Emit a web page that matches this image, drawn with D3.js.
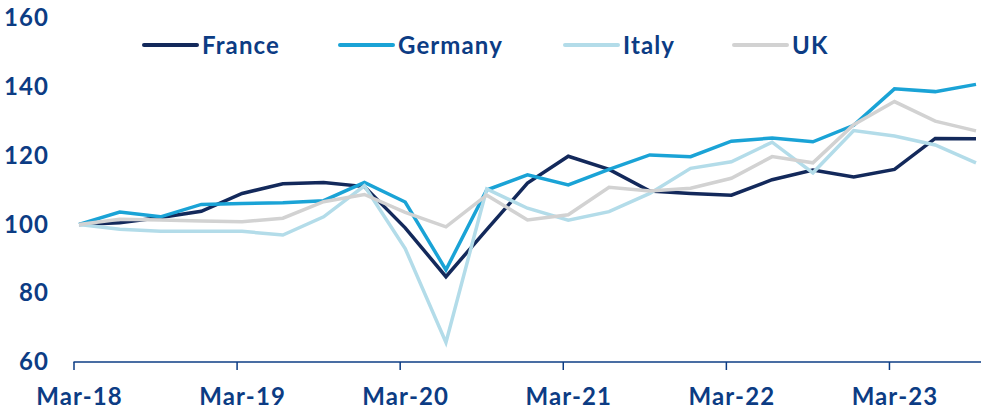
<!DOCTYPE html>
<html>
<head>
<meta charset="utf-8">
<script src="https://cdn.jsdelivr.net/npm/d3@7"></script>
<style>
  html, body { margin: 0; padding: 0; background: #fff; }
  svg { display: block; font-family: Lato, "Open Sans", sans-serif; }
</style>
</head>
<body>
<svg id="chart" width="981" height="413"></svg>
<script>
// Quarterly index values (Mar-18 = 100)
const quarters = ["Mar-18","Jun-18","Sep-18","Dec-18","Mar-19","Jun-19","Sep-19","Dec-19",
                  "Mar-20","Jun-20","Sep-20","Dec-20","Mar-21","Jun-21","Sep-21","Dec-21",
                  "Mar-22","Jun-22","Sep-22","Dec-22","Mar-23","Jun-23","Sep-23"];
const france  = [100, 100.5, 102, 103.8, 109, 111.8, 112.2, 111, 99, 84.8, 98.5, 112, 119.8, 116, 109.7, 109, 108.5, 113, 115.8, 113.8, 116, 125, 124.9];
const germany = [100, 103.6, 102.2, 105.8, 106.1, 106.3, 106.9, 112.2, 106.5, 86.8, 110, 114.4, 111.5, 116, 120.2, 119.7, 124.2, 125.1, 124, 128.8, 139.4, 138.6, 140.7];
const italy   = [100, 98.6, 98, 98, 98, 96.9, 102.2, 111.2, 93, 65.7, 110.3, 104.7, 101.2, 103.7, 109, 116.3, 118.2, 123.9, 115, 127.3, 125.7, 123.1, 117.9];
const uk      = [100, 101.5, 101.3, 101, 100.8, 101.8, 106.6, 108.7, 103.5, 99.3, 108.5, 101.3, 102.8, 110.8, 109.7, 110.5, 113.4, 119.7, 117.9, 129, 135.7, 130, 127.2];
const seriesNames = ["France", "Germany", "Italy", "UK"];
const yTicks = [60, 80, 100, 120, 140, 160];
const xTickLabels = ["Mar-18","Mar-19","Mar-20","Mar-21","Mar-22","Mar-23"];

const colors = ["#13295b", "#1aa3d6", "#b3dce9", "#d2d2d2"];
const textColor = "#0c3c84";
const series = [france, germany, italy, uk];

const fontSize = 24;
const letterSpacing = 1.1;

const svg = d3.select("#chart");

const x = d3.scalePoint().domain(quarters).range([79, 976]);
const y = d3.scaleLinear().domain([60, 160]).range([362, 18]);

function styleText(sel) {
  sel.attr("fill", textColor)
    .attr("font-size", fontSize)
    .attr("font-weight", 700)
    .attr("font-family", "Lato, sans-serif")
    .attr("letter-spacing", letterSpacing);
}

// Y labels (no axis line)
const yAxis = svg.append("g")
  .attr("transform", "translate(49,0)")
  .call(d3.axisLeft(y).tickValues(yTicks).tickSize(0).tickPadding(0));
yAxis.select(".domain").remove();
yAxis.selectAll("text").call(styleText);

// X axis: baseline with tick marks placed just before each year's first quarter
const xAxis = svg.append("g")
  .attr("transform", "translate(0,362)")
  .call(d3.axisBottom(x).tickValues(xTickLabels).tickSize(0).tickPadding(0));
xAxis.select(".domain").remove();
xAxis.append("line")
  .attr("x1", x("Mar-18") - 5.5).attr("x2", 981)
  .attr("y1", 0).attr("y2", 0)
  .attr("stroke", textColor).attr("stroke-width", 1.5);
xAxis.selectAll(".tick line")
  .attr("x1", -5.5).attr("x2", -5.5)
  .attr("y1", 0).attr("y2", 8)
  .attr("stroke", textColor).attr("stroke-width", 1.5);
xAxis.selectAll(".tick text")
  .attr("y", 43)
  .attr("dy", 0)
  .call(styleText);

// Lines
const line = d3.line()
  .x((d, i) => x(quarters[i]))
  .y(d => y(d));

series.forEach((s, k) => {
  svg.append("path")
    .datum(s)
    .attr("d", line)
    .attr("fill", "none")
    .attr("stroke", colors[k])
    .attr("stroke-width", 3.5)
    .attr("stroke-linejoin", "miter");
});

// Legend
const legendX = [144, 340, 565, 734];
const legend = svg.append("g");
seriesNames.forEach((name, k) => {
  const g = legend.append("g").attr("transform", `translate(${legendX[k]},45)`);
  g.append("line")
    .attr("x1", 0).attr("x2", 53)
    .attr("y1", 0).attr("y2", 0)
    .attr("stroke", colors[k])
    .attr("stroke-width", 4)
    .attr("stroke-linecap", "round");
  g.append("text")
    .attr("x", 58).attr("y", 8.5)
    .call(styleText)
    .text(name);
});
</script>
</body>
</html>
